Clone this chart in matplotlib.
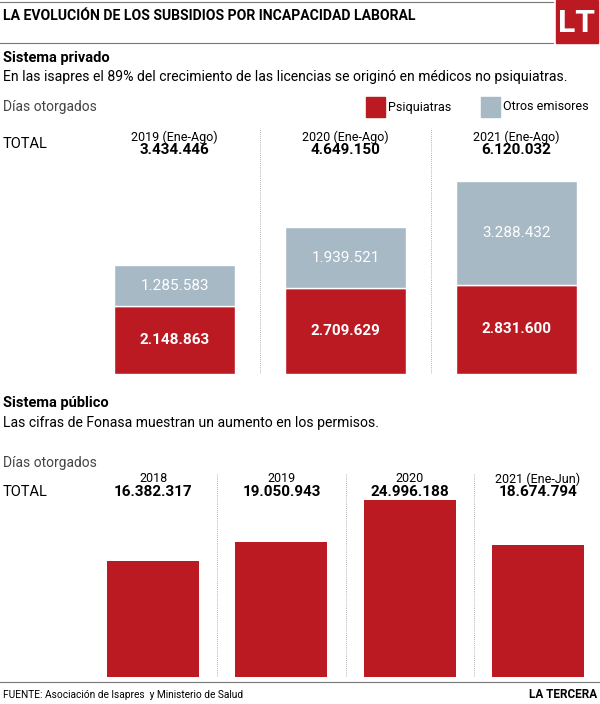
import matplotlib
matplotlib.use("Agg")
import matplotlib.pyplot as plt
from matplotlib.patches import Rectangle
from matplotlib.lines import Line2D

# datos
priv_years = ["2019 (Ene-Ago)", "2020 (Ene-Ago)", "2021 (Ene-Ago)"]
psiquiatras = [2148863, 2709629, 2831600]
otros = [1285583, 1939521, 3288432]
pub_years = ["2018", "2019", "2020", "2021 (Ene-Jun)"]
pub_dias = [16382317, 19050943, 24996188, 18674794]

ROJO = "#BB1A22"
GRIS = "#A6B9C5"
W, H = 600, 704

plt.rcParams["font.family"] = ["Roboto", "DejaVu Sans"]


def fmt(v):
    return f"{v:,}".replace(",", ".")


def fx(x):
    return x / W


def fy(y):
    return 1 - y / H


fig = plt.figure(figsize=(6, 7.04), dpi=100)

# cabecera
fig.add_artist(Line2D([0, fx(553)], [fy(2), fy(2)], color="#777777", lw=0.8))
fig.add_artist(Line2D([0, fx(553)], [fy(43), fy(43)], color="#777777", lw=0.8))
fig.add_artist(Rectangle((fx(556), fy(43)), fx(42), 43 / H, color=ROJO))
fig.text(fx(577), fy(23), "LT", color="white", fontsize=23, weight="bold", ha="center", va="center")
fig.text(fx(3), fy(16), "LA EVOLUCIÓN DE LOS SUBSIDIOS POR INCAPACIDAD LABORAL",
         fontsize=10.1, weight="bold", va="center")

fig.text(fx(3), fy(58), "Sistema privado", fontsize=10.5, weight="bold", va="center")
fig.text(fx(3), fy(77), "En las isapres el 89% del crecimiento de las licencias se originó en médicos no psiquiatras.",
         fontsize=10.1, va="center")
fig.text(fx(3), fy(107), "Días otorgados", fontsize=10, color="#444444", va="center")
fig.text(fx(3), fy(144), "TOTAL", fontsize=10.5, va="center")

# leyenda
fig.add_artist(Rectangle((fx(366), fy(117)), fx(19), 20 / H, color=ROJO))
fig.text(fx(388), fy(107), "Psiquiatras", fontsize=9, va="center")
fig.add_artist(Rectangle((fx(481), fy(117)), fx(19), 20 / H, color=GRIS))
fig.text(fx(503), fy(107), "Otros emisores", fontsize=9, va="center")

# grafico privado
step = 171
ax1 = fig.add_axes([fx(89), fy(374), fx(510), (374 - 128) / H])
x1 = range(len(priv_years))
ax1.bar(x1, psiquiatras, width=121 / step, color=ROJO, edgecolor="white", linewidth=1)
ax1.bar(x1, otros, bottom=psiquiatras, width=121 / step, color=GRIS, edgecolor="white", linewidth=1)
ax1.set_xlim(-0.5, -0.5 + 510 / step)
ax1.set_ylim(0, (374 - 128) / 31.6e-6)
for i in x1:
    ax1.text(i, psiquiatras[i] / 2, fmt(psiquiatras[i]), color="white", fontsize=11,
             weight="bold", ha="center", va="center")
    ax1.text(i, psiquiatras[i] + otros[i] / 2, fmt(otros[i]), color="white", fontsize=11,
             ha="center", va="center")
    total = psiquiatras[i] + otros[i]
    ax1.text(i, 1 - 9 / 246, priv_years[i], fontsize=9, ha="center", va="center",
             transform=ax1.get_xaxis_transform())
    ax1.text(i, 1 - 22 / 246, fmt(total), fontsize=11, weight="bold", ha="center", va="center",
             transform=ax1.get_xaxis_transform())
for s in [0.5, 1.5]:
    ax1.axvline(s, color="#999999", lw=0.6, ls=(0, (1, 1.5)))
ax1.axis("off")

# sistema publico
fig.text(fx(3), fy(403), "Sistema público", fontsize=10.5, weight="bold", va="center")
fig.text(fx(3), fy(423), "Las cifras de Fonasa muestran un aumento en los permisos.",
         fontsize=10.1, va="center")
fig.text(fx(3), fy(463), "Días otorgados", fontsize=10, color="#444444", va="center")
fig.text(fx(3), fy(492), "TOTAL", fontsize=10.5, va="center")

step2 = 128.3
ax2 = fig.add_axes([fx(89), fy(677), fx(511), (677 - 473) / H])
x2 = range(len(pub_years))
ax2.bar(x2, pub_dias, width=92 / step2, color=ROJO)
ax2.set_xlim(-0.5, -0.5 + 511 / step2)
ax2.set_ylim(0, (677 - 473) / 7.08e-6)
for i in x2:
    ax2.text(i, 1 - 6 / 204, pub_years[i], fontsize=9, ha="center", va="center",
             transform=ax2.get_xaxis_transform())
    ax2.text(i, 1 - 19 / 204, fmt(pub_dias[i]), fontsize=11, weight="semibold", ha="center",
             va="center", transform=ax2.get_xaxis_transform())
for s in [0.5, 1.5, 2.5]:
    ax2.axvline(s, color="#999999", lw=0.6, ls=(0, (1, 1.5)))
ax2.axis("off")

# pie
fig.add_artist(Line2D([0, 1], [fy(682), fy(682)], color="#777777", lw=0.8))
fig.text(fx(3), fy(695), "FUENTE: Asociación de Isapres  y Ministerio de Salud", fontsize=7.3, va="center")
fig.text(fx(597), fy(695), "LA TERCERA", fontsize=8.5, weight="bold", ha="right", va="center")

fig.savefig("out.png", dpi=100)
